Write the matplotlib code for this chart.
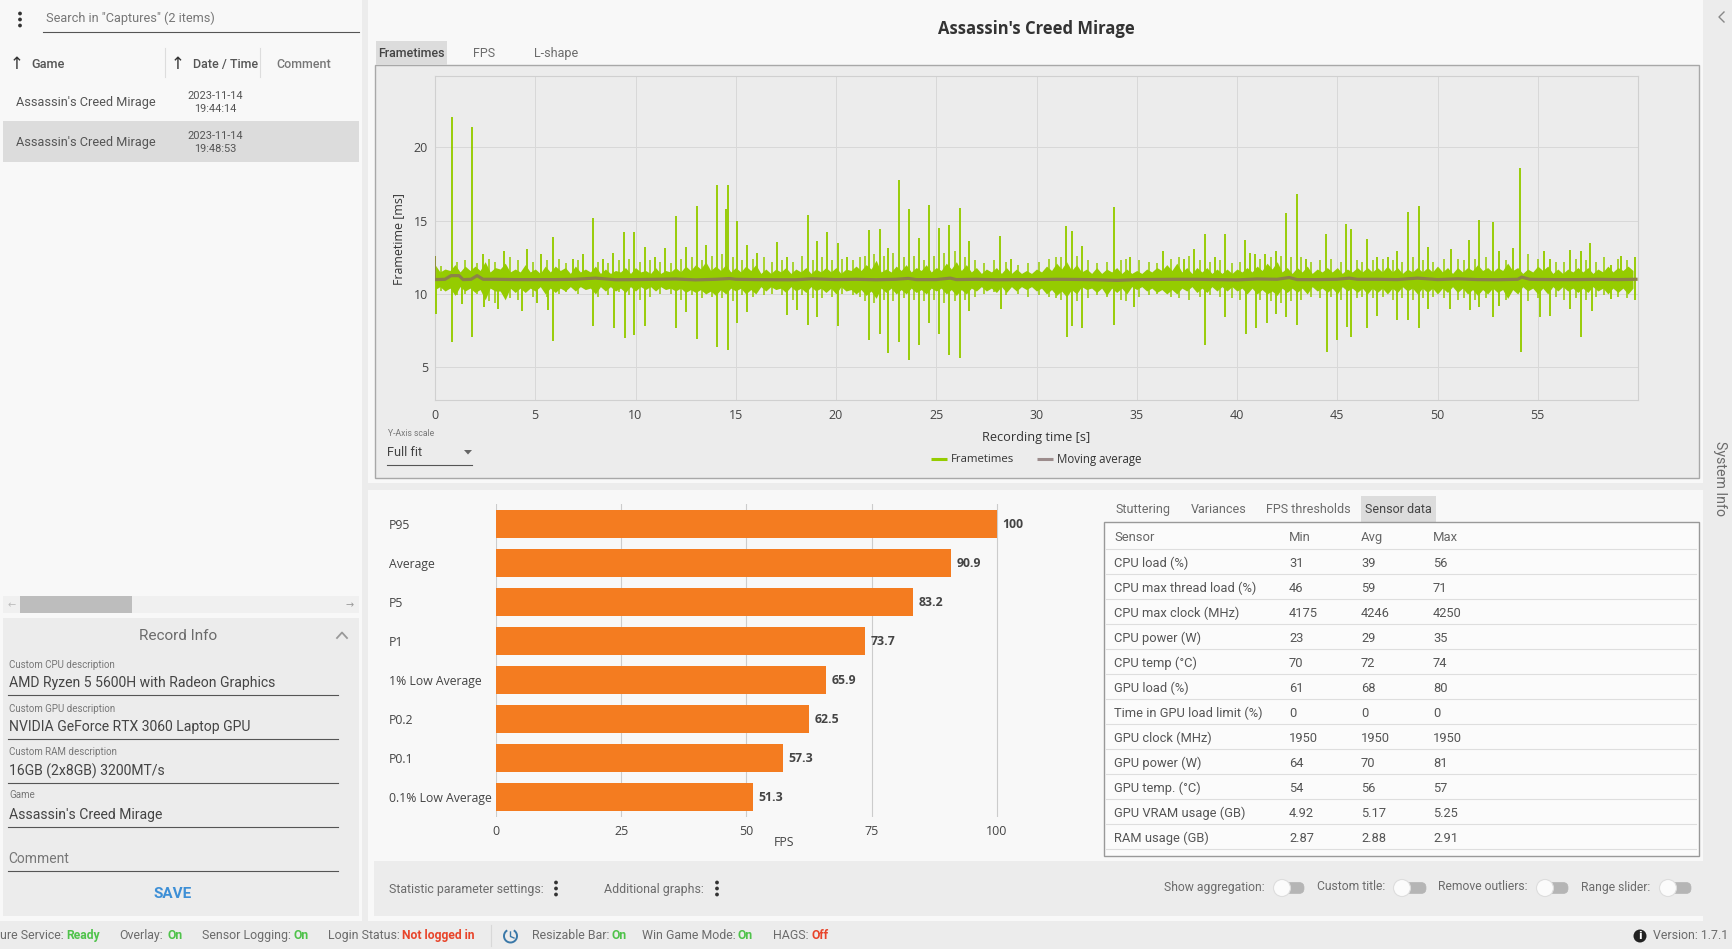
#!/usr/bin/env python3
import matplotlib
matplotlib.use("Agg")
import matplotlib.pyplot as plt
from matplotlib.patches import Rectangle, Circle, FancyBboxPatch, Arc, Polygon

W, H = 1732, 949

# Frametime spikes: seconds, milliseconds
spike_up_t = [0.02, 0.85, 1.85, 2.4, 3.45, 4.6, 5.3, 5.88, 6.9, 7.4, 7.9, 8.4, 8.9, 9.45, 9.95, 10.45,
              10.95, 11.45, 12.0, 12.5, 13.05, 13.5, 14.05, 14.5, 14.6, 15.05, 15.55, 16.05, 17.05,
              17.55, 18.6, 19.05, 19.55, 20.1, 20.55, 21.65, 22.2, 22.6, 23.15, 23.65, 24.15, 24.65,
              25.15, 25.65, 26.2, 26.65, 28.2, 28.75, 31.47, 31.77, 32.26, 33.85, 34.65, 36.33,
              37.37, 37.87, 38.4, 38.9, 39.4, 40.4, 40.63, 40.9, 41.42, 41.93, 42.45, 42.98, 43.43,
              44.44, 45.46, 45.68, 46.49, 47.0, 47.54, 48.0, 48.52, 49.06, 49.53, 50.68, 51.56,
              52.07, 52.78, 53.08, 53.76, 54.13, 55.32, 55.6, 56.63, 57.14, 57.63, 58.66, 59.13, 59.86]
spike_up_ms = [12.6, 22.07, 21.4, 12.75, 12.9, 13.05, 12.7, 13.9, 12.4, 12.7, 15.2, 12.4, 12.8, 14.25, 14.25, 13.2,
               12.5, 13.1, 15.3, 13.2, 16.0, 13.35, 17.4, 15.8, 17.4, 15.0, 13.35, 12.8, 13.55,
               12.5, 15.4, 13.6, 14.2, 13.5, 12.5, 14.35, 14.45, 13.15, 17.8, 15.8, 13.8, 16.05,
               14.5, 14.7, 15.85, 13.6, 13.95, 12.4, 14.65, 14.3, 13.3, 15.93, 12.5, 12.9,
               12.4, 13.05, 14.07, 12.5, 14.1, 13.7, 12.8, 12.7, 12.7, 12.9, 15.5, 16.8, 12.4,
               14.07, 14.77, 14.45, 13.77, 12.5, 12.5, 12.9, 15.6, 16.0, 13.2, 13.05, 13.7,
               15.05, 14.93, 12.9, 13.15, 18.6, 12.9, 12.4, 13.0, 12.9, 13.5, 12.0, 12.6, 12.5]
spike_down_t = [0.03, 0.85, 1.35, 1.85, 2.45, 3.15, 4.35, 5.1, 5.65, 5.88, 7.9, 8.95, 9.47, 9.95, 10.45,
                12.0, 12.5, 13.05, 14.05, 14.6, 15.05, 15.55, 17.55, 18.05, 18.6, 19.05, 20.1, 21.65,
                22.2, 22.6, 23.15, 23.65, 24.15, 24.65, 25.15, 25.65, 26.2, 26.65, 28.25, 31.5, 31.77,
                32.26, 33.85, 34.85, 38.4, 39.4, 40.43, 40.95, 41.48, 41.97, 42.45, 42.98, 44.48, 45.0,
                45.5, 45.7, 46.49, 47.0, 48.0, 48.52, 49.08, 49.53, 50.6, 51.6, 52.07, 52.78, 53.08,
                54.17, 55.13, 55.6, 56.63, 57.17, 57.7, 58.66, 59.86]
spike_down_ms = [8.6, 6.73, 9.3, 7.07, 9.1, 9.0, 8.85, 9.4, 8.9, 6.8, 7.8, 7.7, 7.0, 7.2, 7.8,
                 7.65, 8.8, 6.9, 6.4, 6.2, 8.05, 8.8, 8.55, 8.9, 7.9, 8.4, 7.8, 6.85,
                 7.3, 5.95, 6.75, 5.5, 6.5, 8.0, 7.25, 5.85, 5.6, 8.85, 8.95, 7.07, 7.8,
                 7.65, 7.9, 9.1, 6.5, 8.4, 7.25, 7.65, 8.05, 8.65, 8.4, 7.9, 6.05, 6.85,
                 7.75, 7.05, 7.65, 8.5, 8.2, 8.2, 7.65, 9.0, 8.95, 8.9, 9.1, 8.4, 9.2,
                 6.05, 8.4, 8.5, 8.95, 7.05, 8.85, 9.65, 9.6]

# Smaller spikes standing out of the dense band
mid_t = [0.3, 1.1, 1.5, 2.1, 2.7, 3.0, 3.75, 4.15, 4.9, 5.6, 6.2, 6.55, 7.15, 8.15, 8.65, 9.2, 9.7, 10.2, 10.7,
         11.2, 11.75, 12.25, 12.8, 13.3, 13.8, 14.3, 14.85, 15.3, 15.85, 16.4, 16.8, 17.3, 17.85, 18.3, 18.85, 19.3,
         19.8, 20.3, 20.85, 21.2, 21.45, 21.9, 22.4, 22.85, 23.4, 23.9, 24.4, 24.9, 25.4, 25.95, 26.45, 26.95, 27.4,
         27.9, 28.5, 29.1, 29.6, 30.1, 30.6, 30.95, 31.2, 32.0, 32.55, 33.0, 33.5, 34.2, 34.45, 35.1, 35.6, 36.0, 36.7,
         37.1, 37.6, 38.15, 38.65, 39.15, 39.75, 40.15, 41.15, 41.7, 42.2, 42.7, 43.2, 43.7, 44.15, 44.7, 45.2, 46.0,
         46.25, 46.8, 47.3, 47.8, 48.25, 48.8, 49.3, 49.8, 50.3, 51.0, 51.3, 51.85, 52.4, 53.4, 54.5, 55.0, 55.9, 56.3,
         56.9, 57.4, 57.9, 58.3, 59.0, 59.45]
mid_hi = [11.9, 12.2, 12.3, 12.1, 12.4, 12.2, 12.5, 12.3, 12.2, 12.3, 12.4, 12.1, 12.3, 12.2, 12.1, 12.3, 12.4, 12.2, 12.3,
          12.2, 12.1, 12.4, 12.5, 12.3, 12.6, 12.7, 12.5, 12.3, 12.4, 12.5, 12.2, 12.3, 12.2, 12.6, 12.3, 12.5,
          12.3, 12.4, 12.3, 12.5, 12.6, 12.7, 12.6, 12.8, 12.5, 12.6, 12.3, 12.6, 12.8, 12.9, 12.5, 12.3, 12.1,
          12.3, 12.2, 12.0, 12.1, 12.2, 12.4, 12.5, 12.5, 12.6, 12.3, 12.1, 12.2, 12.3, 12.4, 12.3, 12.2, 12.1, 12.4,
          12.5, 12.6, 12.3, 12.2, 12.3, 12.1, 12.2, 12.4, 12.5, 12.6, 12.5, 12.5, 12.2, 12.3, 12.4, 12.2, 12.3,
          12.2, 12.3, 12.4, 12.3, 12.2, 12.5, 12.3, 12.2, 12.4, 12.4, 12.3, 12.4, 12.5, 12.3, 12.7, 12.4, 12.2, 12.2,
          12.4, 12.3, 12.2, 12.5, 12.4, 12.3]
mid_lo = [10.2, 9.9, 10.0, 10.0, 9.5, 9.4, 9.7, 9.6, 9.8, 9.8, 10.0, 10.1, 10.0, 9.8, 9.9, 10.1, 9.9, 9.6, 9.8,
          10.0, 10.0, 9.6, 9.9, 9.7, 9.8, 9.7, 9.5, 9.9, 9.8, 9.9, 10.0, 9.9, 9.6, 9.9, 9.7, 9.7,
          9.8, 10.0, 9.9, 9.8, 9.5, 9.4, 9.6, 9.5, 9.7, 9.6, 9.5, 9.6, 9.4, 9.5, 9.6, 9.8, 10.0,
          10.1, 9.9, 10.0, 9.8, 9.9, 9.8, 9.7, 9.6, 9.5, 9.7, 9.9, 9.8, 9.6, 9.5, 9.8, 9.9, 10.0, 9.8,
          9.7, 9.6, 9.8, 9.9, 9.8, 9.7, 9.6, 9.6, 9.5, 9.4, 9.5, 9.6, 9.8, 9.7, 9.8, 9.6, 9.7,
          9.8, 9.7, 9.8, 9.6, 9.7, 9.6, 9.7, 9.8, 9.7, 9.6, 9.7, 9.6, 9.7, 9.6, 9.5, 9.7, 9.8, 9.6,
          9.7, 9.6, 9.8, 9.9, 9.8, 9.7]

# Dense band around the average: peaks on the half second, gaps on the quarter
band_t = [i * 0.5 for i in range(120)]
band_hi = [12.0, 11.7, 12.0, 11.9, 11.9, 12.2, 11.8, 12.1, 11.7, 12.0, 11.7, 11.9, 11.9, 11.8, 11.9, 11.7,
           11.9, 11.7, 11.6, 11.8, 11.8, 11.6, 11.8, 11.6, 11.8, 11.9, 12.0, 12.2, 11.9, 12.0,
           11.8, 11.9, 12.0, 11.7, 11.7, 11.8, 11.7, 11.8, 11.7, 11.8, 11.8, 11.7, 11.9, 12.0, 12.3, 11.7,
           11.9, 12.0, 11.8, 12.0, 11.8, 12.1, 12.2, 12.0, 11.8, 11.7, 11.8, 11.8, 11.7, 11.6,
           11.7, 11.9, 12.1, 12.2, 12.0, 11.7, 11.8, 11.7, 11.8, 11.7, 11.6, 11.7, 11.8, 12.0, 12.1, 11.8,
           11.8, 11.8, 11.7, 11.7, 11.7, 11.8, 11.9, 12.1, 12.2, 11.8, 11.8, 11.9, 11.7, 11.8, 11.8, 11.7,
           11.8, 11.8, 11.8, 11.9, 11.8, 11.7, 11.8, 11.8, 11.9, 11.8, 11.8, 11.8, 12.0, 11.8, 11.8, 12.1,
           11.8, 11.7, 11.9, 11.9, 11.7, 11.7, 11.8, 11.8, 11.7, 11.9, 11.8, 11.9]
band_lo = [10.3, 10.2, 9.9, 10.2, 10.1, 9.6, 10.2, 9.6, 10.1, 10.1, 10.2, 10.0, 10.1, 10.2, 10.2, 10.3,
           10.0, 10.2, 10.2, 10.1, 10.2, 10.3, 10.2, 10.3, 10.2, 10.1, 10.1, 10.0, 9.9, 10.0,
           10.2, 10.0, 10.0, 10.2, 10.3, 10.1, 10.2, 10.1, 10.2, 10.1, 10.0, 10.2, 10.0, 9.9, 9.7, 10.1,
           10.0, 10.0, 10.1, 10.0, 10.2, 10.0, 9.9, 10.0, 10.2, 10.2, 10.1, 10.1, 10.2, 10.3,
           10.2, 10.0, 9.9, 9.8, 10.0, 10.3, 10.1, 9.9, 10.1, 10.0, 10.3, 10.2, 10.1, 10.0, 10.0, 10.2,
           10.1, 10.1, 10.2, 10.2, 10.2, 10.0, 10.0, 10.0, 9.9, 10.1, 10.1, 10.0, 10.2, 10.1, 10.0, 10.2,
           10.1, 10.0, 10.1, 10.0, 10.1, 10.2, 10.0, 10.1, 10.0, 10.1, 10.1, 10.0, 9.9, 10.0, 10.1, 9.7,
           10.0, 10.2, 10.0, 10.0, 10.2, 10.2, 10.1, 10.1, 10.2, 10.0, 10.1, 10.0]
gap_t = [0.25 + i * 0.5 for i in range(120)]
gap_hi = [11.5, 11.6, 11.5, 11.6, 11.6, 11.5, 11.7, 11.5, 11.5, 11.5, 11.4, 11.5, 11.6, 11.4, 11.5, 11.5,
          11.4, 11.4, 11.5, 11.4, 11.5, 11.4, 11.4, 11.5, 11.5, 11.6, 11.7, 11.6, 11.6, 11.5,
          11.5, 11.6, 11.4, 11.4, 11.5, 11.4, 11.5, 11.4, 11.5, 11.5, 11.4, 11.6, 11.6, 11.7, 11.5, 11.5,
          11.6, 11.5, 11.6, 11.5, 11.6, 11.7, 11.6, 11.5, 11.4, 11.5, 11.4, 11.4, 11.4, 11.4,
          11.5, 11.6, 11.7, 11.6, 11.5, 11.4, 11.4, 11.5, 11.4, 11.4, 11.4, 11.5, 11.6, 11.6, 11.5, 11.4,
          11.5, 11.4, 11.4, 11.4, 11.5, 11.5, 11.6, 11.7, 11.5, 11.4, 11.5, 11.4, 11.5, 11.5, 11.4, 11.5,
          11.5, 11.5, 11.5, 11.5, 11.4, 11.5, 11.5, 11.5, 11.5, 11.4, 11.5, 11.6, 11.6, 11.5, 11.6, 11.6,
          11.4, 11.5, 11.6, 11.4, 11.4, 11.5, 11.5, 11.4, 11.5, 11.5, 11.6, 11.6]
gap_lo = [10.5, 10.4, 10.5, 10.4, 10.3, 10.4, 10.2, 10.4, 10.4, 10.4, 10.5, 10.4, 10.4, 10.5, 10.5, 10.4,
          10.5, 10.5, 10.4, 10.5, 10.5, 10.5, 10.5, 10.4, 10.4, 10.3, 10.3, 10.2, 10.3, 10.4,
          10.4, 10.3, 10.5, 10.5, 10.4, 10.5, 10.4, 10.5, 10.4, 10.4, 10.5, 10.3, 10.3, 10.2, 10.4, 10.4,
          10.3, 10.4, 10.3, 10.4, 10.4, 10.3, 10.3, 10.4, 10.5, 10.4, 10.5, 10.5, 10.5, 10.5,
          10.4, 10.3, 10.2, 10.3, 10.5, 10.4, 10.4, 10.4, 10.4, 10.5, 10.5, 10.4, 10.3, 10.3, 10.4, 10.5,
          10.4, 10.5, 10.5, 10.5, 10.4, 10.4, 10.3, 10.2, 10.4, 10.4, 10.4, 10.5, 10.4, 10.4, 10.5, 10.4,
          10.4, 10.4, 10.4, 10.4, 10.5, 10.4, 10.4, 10.4, 10.4, 10.5, 10.4, 10.3, 10.3, 10.4, 10.3, 10.3,
          10.5, 10.4, 10.4, 10.5, 10.5, 10.4, 10.4, 10.5, 10.4, 10.4, 10.4, 10.4]

# Moving average
ma_t = [0.0, 0.5, 0.8, 1.2, 1.4, 1.8, 2.1, 2.4, 3, 4, 5, 6, 7, 8, 9, 10, 11, 12, 13, 14, 14.7, 15, 16, 17, 18,
        18.8, 20, 21, 22, 23, 23.6, 24, 25, 25.7, 26, 27, 28, 29, 30, 31, 32, 33, 34, 35, 36, 37, 38, 39, 40,
        41, 42, 42.6, 43, 44, 45, 45.6, 46, 47, 48, 49, 50, 51, 52, 53, 54, 54.2, 54.6, 55, 56, 57, 58, 59, 59.9]
ma_ms = [10.98, 11.0, 11.25, 11.25, 10.98, 11.0, 11.25, 11.0, 11.0, 10.98, 10.98, 10.98, 11.0, 11.08, 10.97, 10.98,
         11.0, 11.02, 10.96, 11.0, 11.05, 11.0, 10.98, 10.97, 10.97, 11.03, 10.98, 11.0, 10.97, 11.0, 11.06, 10.98, 10.98,
         11.08, 10.98, 11.0, 10.97, 10.98, 10.98, 11.0, 10.99, 10.97, 10.93, 10.98, 10.99, 11.0, 11.0, 10.98, 10.96,
         11.02, 11.0, 11.12, 10.98, 10.98, 11.0, 11.08, 11.0, 11.0, 10.98, 11.08, 10.98, 11.03, 10.98, 10.97, 11.0,
         11.15, 11.0, 10.99, 10.98, 10.98, 11.0, 10.98, 11.0]

x_ticks_time = [0, 5, 10, 15, 20, 25, 30, 35, 40, 45, 50, 55]
y_ticks_ms = [5, 10, 15, 20]

# FPS bars
fps_labels = ["P95", "Average", "P5", "P1", "1% Low Average", "P0.2", "P0.1", "0.1% Low Average"]
fps_values = [100, 90.9, 83.2, 73.7, 65.9, 62.5, 57.3, 51.3]
fps_ticks = [0, 25, 50, 75, 100]

# Sensor table
sensor_names = ["CPU load (%)", "CPU max thread load (%)", "CPU max clock (MHz)", "CPU power (W)", "CPU temp (°C)",
                "GPU load (%)", "Time in GPU load limit (%)", "GPU clock (MHz)", "GPU power (W)", "GPU temp. (°C)",
                "GPU VRAM usage (GB)", "RAM usage (GB)"]
sensor_min = ["31", "46", "4175", "23", "70", "61", "0", "1950", "64", "54", "4.92", "2.87"]
sensor_avg = ["39", "59", "4246", "29", "72", "68", "0", "1950", "70", "56", "5.17", "2.88"]
sensor_max = ["56", "71", "4250", "35", "74", "80", "0", "1950", "81", "57", "5.25", "2.91"]

UI_BG = "#f8f8f8"
PANEL = "#ececec"
TAB = "#dcdcdc"
GREEN = "#95cc00"
AVG_LEG = "#9c8c8c"
AVG_LINE = "#8c8348"
ORANGE = "#f47c20"
OK_GREEN = "#4fc24a"
BAD_RED = "#e8442a"
GREY_TXT = "#6b6b6b"
UI_FONT = "Roboto"
CHART_FONT = "Open Sans"


def axes_px(fig, x0, y0, x1, y1):
    """Axes from pixel edges, y counted from the top of the screenshot."""
    return fig.add_axes([x0 / W, 1 - y1 / H, (x1 - x0) / W, (y1 - y0) / H])


def box(ax, x0, y0, x1, y1, fc, ec="none", lw=0, z=1):
    ax.add_patch(Rectangle((x0, y0), x1 - x0, y1 - y0, facecolor=fc, edgecolor=ec, linewidth=lw, zorder=z))


def label(ax, x, y, s, size=9.4, color=GREY_TXT, ha="left", weight="normal", font=UI_FONT, **kw):
    # +1: matplotlib centres slightly higher than the capture's text
    ax.text(x, y + 1, s, fontsize=size, color=color, ha=ha, va="center", fontweight=weight,
            family=[font, "DejaVu Sans"], zorder=5, **kw)


def kebab(ax, x, y, color="#333333"):
    for dy in (-6, 0, 6):
        ax.add_patch(Circle((x, y + dy), 1.9, facecolor=color, edgecolor="none", zorder=5))


def toggle(ax, x0, x1, y):
    ax.add_patch(FancyBboxPatch((x0 + 2, y - 5.5), x1 - x0 - 2, 11, boxstyle="round,pad=0,rounding_size=5",
                                facecolor="#b5b5b5", edgecolor="#b5b5b5", linewidth=0.5, zorder=4))
    ax.add_patch(Circle((x0, y), 8.5, facecolor="#fbfbfb", edgecolor="#dddddd", linewidth=0.8, zorder=5))


def draw_sidebar(ui):
    box(ui, 0, 0, 362, 921, UI_BG)
    kebab(ui, 20, 19.5)
    label(ui, 46, 17, 'Search in "Captures" (2 items)', color="#777777", size=9.2)
    ui.plot([43, 359], [31.7, 31.7], color="#555555", lw=0.8, zorder=3)

    label(ui, 17, 63, "↑", size=12, color="#333333", ha="center", font="DejaVu Sans")
    label(ui, 31, 63, "Game", color="#555555", weight="medium", size=9.2)
    ui.plot([164.5, 164.5], [48, 77], color="#dddddd", lw=0.8, zorder=3)
    label(ui, 178, 63, "↑", size=12, color="#333333", ha="center", font="DejaVu Sans")
    label(ui, 193, 63, "Date / Time", color="#555555", weight="medium", size=9)
    ui.plot([259.5, 259.5], [48, 77], color="#dddddd", lw=0.8, zorder=3)
    label(ui, 276, 63, "Comment", color="#777777", weight="medium", size=9)

    box(ui, 3, 121, 359, 162, TAB)
    label(ui, 16, 101, "Assassin's Creed Mirage", size=9.15, color="#555555")
    label(ui, 16, 141, "Assassin's Creed Mirage", size=9.15, color="#555555")
    label(ui, 215, 94.5, "2023-11-14", size=7.9, ha="center", color="#555555")
    label(ui, 215, 107.5, "19:44:14", size=7.9, ha="center", color="#555555")
    label(ui, 215, 134.5, "2023-11-14", size=7.9, ha="center", color="#555555")
    label(ui, 215, 147.5, "19:48:53", size=7.9, ha="center", color="#555555")

    box(ui, 3, 596, 359, 613, "#f0f0f0")
    box(ui, 20, 596, 132, 613, "#bdbdbd", z=2)
    label(ui, 12, 604, "←", size=7, color="#bbbbbb", ha="center", font="DejaVu Sans")
    label(ui, 350, 604, "→", size=7, color="#999999", ha="center", font="DejaVu Sans")

    box(ui, 3, 618, 359, 916, PANEL)
    label(ui, 178, 635.5, "Record Info", size=11, ha="center")
    ui.plot([337, 342, 347], [638, 632.5, 638], color="#999999", lw=1.3, zorder=5)
    rows = [(664, 681.5, 695, "Custom CPU description", "AMD Ryzen 5 5600H with Radeon Graphics"),
            (707.5, 725.5, 739, "Custom GPU description", "NVIDIA GeForce RTX 3060 Laptop GPU"),
            (751, 770.5, 782.5, "Custom RAM description", "16GB (2x8GB) 3200MT/s"),
            (794.5, 814, 826.5, "Game", "Assassin's Creed Mirage")]
    for y_small, y_val, y_line, small, val in rows:
        label(ui, 9, y_small, small, size=7, color="#777777")
        label(ui, 9, y_val, val, size=10.05, color="#444444")
        ui.plot([8, 338], [y_line, y_line], color="#555555", lw=0.8, zorder=3)
    label(ui, 8, 858, "Comment", size=10, color="#777777")
    ui.plot([8, 338], [870.5, 870.5], color="#555555", lw=0.8, zorder=3)
    label(ui, 173, 893, "SAVE", size=11, ha="center", color="#3d8fd6", weight="bold")


def draw_status_bar(ui):
    box(ui, 0, 921, W, H, PANEL)
    y = 934.5
    for x, s in [(0, "ure Service:"), (119, "Overlay:"), (202, "Sensor Logging:"), (328, "Login Status:"),
                 (531.5, "Resizable Bar:"), (642, "Win Game Mode:"), (773, "HAGS:"), (1653, "Version: 1.7.1")]:
        label(ui, x, y, s, size=8.9)
    for x, s, c in [(66, "Ready", OK_GREEN), (167, "On", OK_GREEN), (293, "On", OK_GREEN),
                    (402, "Not logged in", BAD_RED), (611.5, "On", OK_GREEN), (738, "On", OK_GREEN),
                    (812, "Off", BAD_RED)]:
        label(ui, x, y, s, size=8.7, color=c, weight="bold")
    ui.plot([490.5, 490.5], [925, 946], color="#d8d8d8", lw=0.8, zorder=3)
    ui.add_patch(Arc((510.5, 936), 13, 13, theta1=-60, theta2=240, color="#3a78a8", lw=1.4, zorder=5))
    ui.plot([510.5, 510.5, 514], [932, 936.5, 938], color="#3a78a8", lw=1, zorder=5)
    ui.add_patch(Circle((1640, 936), 6.5, facecolor="#222222", edgecolor="none", zorder=5))
    ui.text(1640, 936, "i", color="white", fontsize=7.5, fontweight="bold", ha="center", va="center", zorder=6)


def draw_frametime_panel(fig, ui):
    box(ui, 374.5, 65, 1698.5, 478, PANEL, ec="#a8a8a8", lw=1, z=1)
    box(ui, 376, 41, 447, 65, TAB, z=2)
    label(ui, 411.5, 52, "Frametimes", size=9, ha="center", color="#444444", weight="medium")
    label(ui, 484, 52, "FPS", size=9, ha="center")
    label(ui, 556, 52, "L-shape", size=9, ha="center")
    label(ui, 1036, 27.7, "Assassin's Creed Mirage", size=12, ha="center", color="#333333",
          weight="bold", font=CHART_FONT)

    ax = axes_px(fig, 435, 76, 1638, 400.3)
    ax.set_facecolor(PANEL)
    ax.set_xlim(0, 60)
    ax.set_ylim(2.75, 24.86)
    # band as teeth: merge peaks and gaps in time order
    zig_t = [t for pair in zip(band_t, gap_t) for t in pair]
    zig_hi = [v for pair in zip(band_hi, gap_hi) for v in pair]
    zig_lo = [v for pair in zip(band_lo, gap_lo) for v in pair]
    ax.fill_between(zig_t, zig_lo, zig_hi, color=GREEN, linewidth=0, zorder=2)
    ax.vlines(mid_t, mid_lo, mid_hi, color=GREEN, linewidth=1.1, zorder=2)
    ax.vlines(spike_up_t, 11, spike_up_ms, color=GREEN, linewidth=1.35, zorder=3)
    ax.vlines(spike_down_t, spike_down_ms, 11, color=GREEN, linewidth=1.35, zorder=3)
    ax.plot(ma_t, ma_ms, color=AVG_LINE, linewidth=2.3, zorder=4)
    ax.vlines([0.02], 11, 12.6, color=AVG_LINE, linewidth=1.2, zorder=4)

    ax.set_xticks(x_ticks_time)
    ax.set_yticks(y_ticks_ms)
    ax.grid(True, color="#d8d8d8", linewidth=0.7, zorder=0)
    ax.set_axisbelow(True)
    ax.tick_params(length=0, labelsize=9, labelcolor="#444444", pad=5)
    ax.tick_params(axis="x", pad=6.5)
    for t in ax.get_xticklabels() + ax.get_yticklabels():
        t.set_family(CHART_FONT)
    for side in ax.spines.values():
        side.set_color("#d0d0d0")
        side.set_linewidth(0.8)

    label(ui, 399, 238, "Frametime [ms]", size=8.9, ha="center", color="#333333", font=CHART_FONT, rotation=90)
    label(ui, 1036, 436, "Recording time [s]", size=9.2, ha="center", color="#333333", font=CHART_FONT)
    ui.plot([931, 947], [458.5, 458.5], color=GREEN, lw=2.2, zorder=5, solid_capstyle="butt")
    label(ui, 951, 458.5, "Frametimes", size=8.2, color="#333333", font=CHART_FONT)
    ui.plot([1037, 1053], [458.5, 458.5], color=AVG_LEG, lw=2.2, zorder=5, solid_capstyle="butt")
    label(ui, 1057, 458.5, "Moving average", size=8.3, color="#333333", font=CHART_FONT)

    label(ui, 388, 433, "Y-Axis scale", size=6.2, color="#777777")
    label(ui, 387, 451, "Full fit", size=9.2, color="#444444")
    ui.add_patch(Polygon([[464, 450], [472, 450], [468, 454.5]], facecolor="#666666", zorder=5))
    ui.plot([387, 472], [465, 465], color="#555555", lw=0.8, zorder=5)


def draw_fps_bars(fig, ui):
    ax = axes_px(fig, 496, 504.3, 1072, 816.5)
    ax.patch.set_alpha(0)
    pos = list(range(len(fps_labels)))
    ax.barh(pos, fps_values, height=0.72, color=ORANGE, zorder=3)
    ax.set_ylim(len(fps_labels) - 0.5, -0.5)
    ax.set_xlim(0, 115)
    ax.set_xticks(fps_ticks)
    ax.set_yticks(pos)
    ax.set_yticklabels([])
    ax.grid(True, axis="x", color="#cccccc", linewidth=0.8, zorder=0)
    ax.set_axisbelow(True)
    ax.tick_params(length=0, labelsize=9, labelcolor="#444444", pad=6)
    for t in ax.get_xticklabels():
        t.set_family(CHART_FONT)
    for side in ax.spines.values():
        side.set_visible(False)
    for i, v in enumerate(fps_values):
        ax.annotate(f"{v:g}", (v, i), xytext=(4, -0.7), textcoords="offset points", va="center", fontsize=8.8,
                    fontweight="bold", color="#444444", family=CHART_FONT, zorder=5)
    for i, name in enumerate(fps_labels):
        label(ui, 389, 524.3 + i * 39.07, name, size=8.8, color="#444444", font=CHART_FONT)
    ax.set_xlabel("FPS", fontsize=8.8, color="#444444", family=CHART_FONT, labelpad=-1.5)


def draw_sensor_table(ui):
    box(ui, 1361, 496, 1436, 521.7, TAB, z=2)
    for x, s, c in [(1143, "Stuttering", GREY_TXT), (1218.5, "Variances", GREY_TXT),
                    (1308, "FPS thresholds", GREY_TXT), (1398, "Sensor data", "#444444")]:
        label(ui, x, 508.5, s, size=9, ha="center", color=c)
    box(ui, 1104.3, 521.7, 1698.5, 855.7, "#fbfbfb", ec="#999999", lw=1, z=2)
    col_x = [1114.5, 1289, 1361, 1433]
    for x, s in zip(col_x, ["Sensor", "Min", "Avg", "Max"]):
        label(ui, x, 536.2, s, size=9.4, color="#666666")
    for i in range(len(sensor_names)):
        y = 562.4 + i * 25
        ui.plot([1106, 1696], [y - 13.7, y - 13.7], color="#dedede", lw=0.8, zorder=3)
        label(ui, col_x[0], y, sensor_names[i], size=9.3, color="#555555")
        label(ui, col_x[1], y, sensor_min[i], size=9.3, color="#555555")
        label(ui, col_x[2], y, sensor_avg[i], size=9.3, color="#555555")
        label(ui, col_x[3], y, sensor_max[i], size=9.3, color="#555555")
    ui.plot([1106, 1696], [848.7, 848.7], color="#dedede", lw=0.8, zorder=3)


def draw_controls(ui):
    box(ui, 374, 861, 1703, 916, PANEL, z=2)
    label(ui, 389, 888, "Statistic parameter settings:", size=8.9)
    kebab(ui, 556, 888.5)
    label(ui, 603.5, 888, "Additional graphs:", size=8.9)
    kebab(ui, 717, 888.5)
    for x, s in [(1163.5, "Show aggregation:"), (1317, "Custom title:"), (1438.5, "Remove outliers:"), (1581, "Range slider:")]:
        label(ui, x, 886, s, size=8.75)
    toggle(ui, 1282, 1304, 888)
    toggle(ui, 1402, 1426, 888)
    toggle(ui, 1545, 1568, 888)
    toggle(ui, 1668, 1691, 888)


def main():
    fig = plt.figure(figsize=(W / 100, H / 100), dpi=100, facecolor=UI_BG)
    ui = fig.add_axes([0, 0, 1, 1])
    ui.set_xlim(0, W)
    ui.set_ylim(H, 0)
    ui.axis("off")

    box(ui, 362, 0, 368, 921, PANEL)
    box(ui, 368, 483, 1703, 490, PANEL)
    box(ui, 1703, 0, W, 921, PANEL)
    label(ui, 1720, 477, "System Info", size=10.2, ha="center", rotation=270)
    ui.plot([1724, 1719, 1724], [12, 17, 22], color="#888888", lw=1, zorder=5)

    draw_sidebar(ui)
    draw_frametime_panel(fig, ui)
    draw_fps_bars(fig, ui)
    draw_sensor_table(ui)
    draw_controls(ui)
    draw_status_bar(ui)

    fig.savefig("out.png", dpi=100, facecolor=fig.get_facecolor())


if __name__ == "__main__":
    main()
